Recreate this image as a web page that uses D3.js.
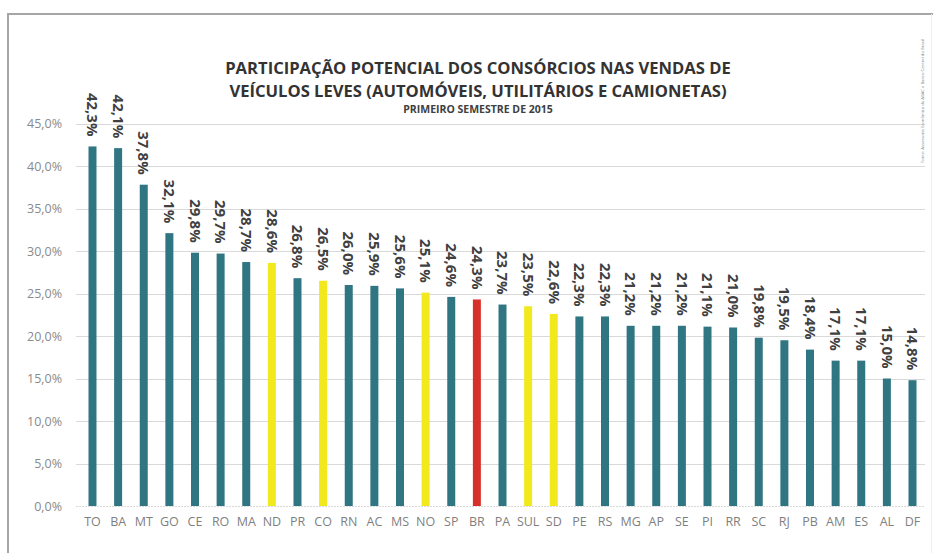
<!DOCTYPE html>
<html>
<head>
<meta charset="utf-8">
<script src="https://cdn.jsdelivr.net/npm/d3@7"></script>
<style>
  html, body { margin: 0; padding: 0; background: #fff; }
  svg { display: block; }
</style>
</head>
<body>
<svg id="chart" width="933" height="553"></svg>
<script>
const categories = ["TO","BA","MT","GO","CE","RO","MA","ND","PR","CO","RN","AC","MS","NO","SP","BR","PA","SUL","SD","PE","RS","MG","AP","SE","PI","RR","SC","RJ","PB","AM","ES","AL","DF"];
const values = [42.3,42.1,37.8,32.1,29.8,29.7,28.7,28.6,26.8,26.5,26.0,25.9,25.6,25.1,24.6,24.3,23.7,23.5,22.6,22.3,22.3,21.2,21.2,21.2,21.1,21.0,19.8,19.5,18.4,17.1,17.1,15.0,14.8];
const regions = ["ND","CO","NO","SUL","SD"];
const national = ["BR"];
const yTicks = [0,5,10,15,20,25,30,35,40,45];
const titleLines = ["PARTICIPAÇÃO POTENCIAL DOS CONSÓRCIOS NAS VENDAS DE","VEÍCULOS LEVES (AUTOMÓVEIS, UTILITÁRIOS E CAMIONETAS)"];
const subtitle = "PRIMEIRO SEMESTRE DE 2015";
const sourceText = "Fonte: Assessoria Econômica da ABAC e Banco Central do Brasil";

const svg = d3.select("#chart");
const fmt = v => d3.format(".1f")(v).replace(".", ",") + "%";

// frame
svg.append("line").attr("x1", 8).attr("x2", 8).attr("y1", 14).attr("y2", 553)
  .attr("stroke", "#a6a6a6").attr("stroke-width", 2);
svg.append("line").attr("x1", 7).attr("x2", 933).attr("y1", 14).attr("y2", 14)
  .attr("stroke", "#a6a6a6").attr("stroke-width", 2);
svg.append("line").attr("x1", 931.5).attr("x2", 931.5).attr("y1", 14).attr("y2", 553)
  .attr("stroke", "#eeeeee").attr("stroke-width", 1);

const x = d3.scaleBand().domain(categories).range([88.5, 916.5]).paddingInner(0.688).paddingOuter(0);
const y = d3.scaleLinear().domain([0, 45]).range([506, 123.5]);

// gridlines
svg.append("g").selectAll("line").data(yTicks).join("line")
  .attr("x1", 76).attr("x2", 925)
  .attr("y1", d => Math.round(y(d)) + 0.5).attr("y2", d => Math.round(y(d)) + 0.5)
  .attr("stroke", "#d9d9d9").attr("stroke-width", 1)
  .attr("stroke-dasharray", d => d === 0 ? "2,1" : null);

// y axis labels
const yAxis = d3.axisLeft(y).tickValues(yTicks).tickSize(0).tickPadding(0).tickFormat(fmt);
const gy = svg.append("g").attr("transform", "translate(62,0)").call(yAxis);
gy.select(".domain").remove();
gy.selectAll("text").attr("font-family", "Open Sans, sans-serif").attr("font-size", 12.5)
  .attr("fill", "#8a8a8a").attr("dy", "0.35em");

// x axis labels
const xAxis = d3.axisBottom(x).tickSize(0).tickPadding(0);
const gx = svg.append("g").attr("transform", "translate(0,522)").call(xAxis);
gx.select(".domain").remove();
gx.selectAll("text").attr("font-family", "Open Sans, sans-serif").attr("font-size", 12.5)
  .attr("fill", "#7f7f7f").attr("dy", "0.35em");

const color = c => national.includes(c) ? "#d7302a" : regions.includes(c) ? "#f1e81e" : "#2f7682";

// bars
svg.append("g").selectAll("rect").data(categories).join("rect")
  .attr("x", c => x(c)).attr("width", x.bandwidth())
  .attr("y", (c, i) => y(values[i])).attr("height", (c, i) => y(0) - y(values[i]))
  .attr("fill", c => color(c));

// value labels
svg.append("g").selectAll("text").data(categories).join("text")
  .attr("transform", (c, i) => `translate(${x(c) + x.bandwidth() / 2},${y(values[i]) - 10}) rotate(90)`)
  .attr("text-anchor", "end").attr("dy", "0.35em")
  .attr("font-family", "Open Sans, sans-serif").attr("font-weight", "bold").attr("font-size", 15)
  .attr("fill", "#404040")
  .text((c, i) => fmt(values[i]));

// title
svg.append("g").selectAll("text").data(titleLines).join("text")
  .attr("x", 478).attr("y", (d, i) => 74 + i * 23)
  .attr("text-anchor", "middle")
  .attr("font-family", "Open Sans, sans-serif").attr("font-weight", "bold").attr("font-size", 16.6)
  .attr("fill", "#333333").text(d => d);
svg.append("text").attr("x", 478).attr("y", 113).attr("text-anchor", "middle")
  .attr("font-family", "Open Sans, sans-serif").attr("font-weight", "bold").attr("font-size", 10.5)
  .attr("fill", "#404040").text(subtitle);

// source
svg.append("text").attr("transform", "translate(924,163) rotate(-90)")
  .attr("font-family", "Open Sans, sans-serif").attr("font-size", 4.2)
  .attr("fill", "#7f7f7f").text(sourceText);
</script>
</body>
</html>
